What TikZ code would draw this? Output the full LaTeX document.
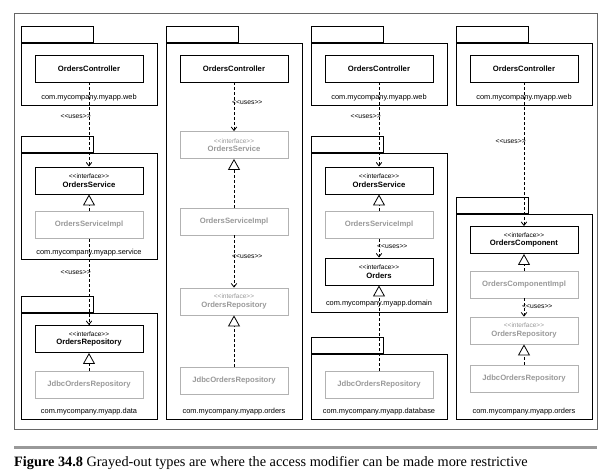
\documentclass[tikz,border=0pt]{standalone}
\usepackage{fontspec}
\setmainfont{Liberation Sans}
\newfontfamily\capfont{Liberation Serif}
\usetikzlibrary{arrows.meta}
\tikzset{
  pkgbody/.style={draw, line width=1.3pt, minimum width=136pt, inner sep=0pt, anchor=north west},
  pkgtab/.style={draw, line width=1.3pt, minimum width=72pt, minimum height=16pt, inner sep=0pt, anchor=south west},
  cls/.style={draw, line width=0.9pt, minimum width=108pt, minimum height=27pt, inner sep=0pt, align=center,
    font=\fontsize{7.7}{8.6}\selectfont\bfseries},
  gcls/.style={cls, draw=black!30, text=black!40, line width=0.8pt},
  plbl/.style={inner sep=0pt, font=\fontsize{7.4}{9}\selectfont},
  ulbl/.style={inner sep=0pt, font=\fontsize{6.8}{8}\selectfont},
  uses/.style={draw, line width=0.8pt, dash pattern=on 3pt off 2pt, -{Straight Barb[length=3.5pt,width=5.5pt]}},
  real/.style={draw, line width=0.8pt, dash pattern=on 3pt off 2pt, -{Triangle[open, length=11pt, width=12pt, fill=white]}},
}
\newcommand{\itf}[1]{{\mdseries\fontsize{6.5}{8.6}\selectfont <{}<interface>{}>}\\#1}
\newcommand{\mkpkg}[4]{%
  \node[pkgbody, minimum height={#4-#3}] (#1) at (#2,#3) {};
  \node[pkgtab] (#1tab) at (#1.north west) {};}
\begin{document}
\begin{tikzpicture}[x=1pt, y=-1pt]
\path[use as bounding box, fill=white] (0,0) rectangle (611,474);
\draw[black!60, line width=0.8pt] (14,13) rectangle (597,429);
\coordinate (sepl) at (14,447);
\coordinate (sepr) at (597,447);
\draw[black!40, line width=3pt] (sepl) -- (sepr);
\node[anchor=base west, inner sep=0pt, font=\capfont\fontsize{14.3}{15}\selectfont] (cap) at (14,466.5)
  {\textbf{Figure 34.8} Grayed-out types are where the access modifier can be made more restrictive};

% ---------- column 1
\mkpkg{pa1}{21}{43}{105}
\mkpkg{pa2}{21}{153}{259}
\mkpkg{pa3}{21}{313}{419}
\node[cls] (ctrl1) at (89,68.5) {OrdersController};
\node[plbl] (la1) at (89,98) {com.mycompany.myapp.web};
\node[cls] (svc1) at (89,180.5) {\itf{OrdersService}};
\node[gcls] (simpl1) at (89,225) {OrdersServiceImpl};
\node[plbl] (la2) at (89,253) {com.mycompany.myapp.service};
\node[cls] (repo1) at (89,339) {\itf{OrdersRepository}};
\node[gcls] (jdbc1) at (89,385) {JdbcOrdersRepository};
\node[plbl] (la3) at (89,412) {com.mycompany.myapp.data};
\node[ulbl, anchor=east] (ua1) at (91,117) {<{}<uses>{}>};
\node[ulbl, anchor=east] (ua2) at (91,273) {<{}<uses>{}>};
\draw[uses] (ctrl1) -- (svc1);
\draw[real] (simpl1) -- (svc1);
\draw[uses] (simpl1) -- (repo1);
\draw[real] (jdbc1) -- (repo1);

% ---------- column 2
\mkpkg{pb1}{166}{43}{419}
\node[cls] (ctrl2) at (234,68.5) {OrdersController};
\node[gcls] (svc2) at (234,145) {\itf{OrdersService}};
\node[gcls] (simpl2) at (234,221.5) {OrdersServiceImpl};
\node[gcls] (repo2) at (234,301.5) {\itf{OrdersRepository}};
\node[gcls] (jdbc2) at (234,381) {JdbcOrdersRepository};
\node[plbl] (lb1) at (234,412) {com.mycompany.myapp.orders};
\node[ulbl, anchor=west] (ub1) at (232,103) {<{}<uses>{}>};
\node[ulbl, anchor=west] (ub2) at (232,257) {<{}<uses>{}>};
\draw[uses] (ctrl2) -- (svc2);
\draw[real] (simpl2) -- (svc2);
\draw[uses] (simpl2) -- (repo2);
\draw[real] (jdbc2) -- (repo2);

% ---------- column 3
\mkpkg{pc1}{311}{43}{105}
\mkpkg{pc2}{311}{153}{312}
\mkpkg{pc3}{311}{354}{419}
\node[cls] (ctrl3) at (379,68.5) {OrdersController};
\node[plbl] (lc1) at (379,98) {com.mycompany.myapp.web};
\node[cls] (svc3) at (379,180.5) {\itf{OrdersService}};
\node[gcls] (simpl3) at (379,225) {OrdersServiceImpl};
\node[cls] (ord3) at (379,271.5) {\itf{Orders}};
\node[plbl] (lc2) at (379,304) {com.mycompany.myapp.domain};
\node[gcls] (jdbc3) at (379,385) {JdbcOrdersRepository};
\node[plbl] (lc3) at (379,412) {com.mycompany.myapp.database};
\node[ulbl, anchor=east] (uc1) at (381,117) {<{}<uses>{}>};
\node[ulbl, anchor=west] (uc2) at (377,247) {<{}<uses>{}>};
\draw[uses] (ctrl3) -- (svc3);
\draw[real] (simpl3) -- (svc3);
\draw[uses] (simpl3) -- (ord3);
\draw[real] (jdbc3) -- (ord3);

% ---------- column 4
\mkpkg{pd1}{456}{43}{105}
\mkpkg{pd2}{456}{214}{419}
\node[cls] (ctrl4) at (524,68.5) {OrdersController};
\node[plbl] (ld1) at (524,98) {com.mycompany.myapp.web};
\node[cls] (comp4) at (524,240) {\itf{OrdersComponent}};
\node[gcls] (cimpl4) at (524,284.5) {OrdersComponentImpl};
\node[gcls] (repo4) at (524,330.5) {\itf{OrdersRepository}};
\node[gcls] (jdbc4) at (524,378.5) {JdbcOrdersRepository};
\node[plbl] (ld2) at (524,412) {com.mycompany.myapp.orders};
\node[ulbl, anchor=east] (ud1) at (526,142) {<{}<uses>{}>};
\node[ulbl, anchor=west] (ud2) at (522,307) {<{}<uses>{}>};
\draw[uses] (ctrl4) -- (comp4);
\draw[real] (cimpl4) -- (comp4);
\draw[uses] (cimpl4) -- (repo4);
\draw[real] (jdbc4) -- (repo4);
\end{tikzpicture}
\end{document}
